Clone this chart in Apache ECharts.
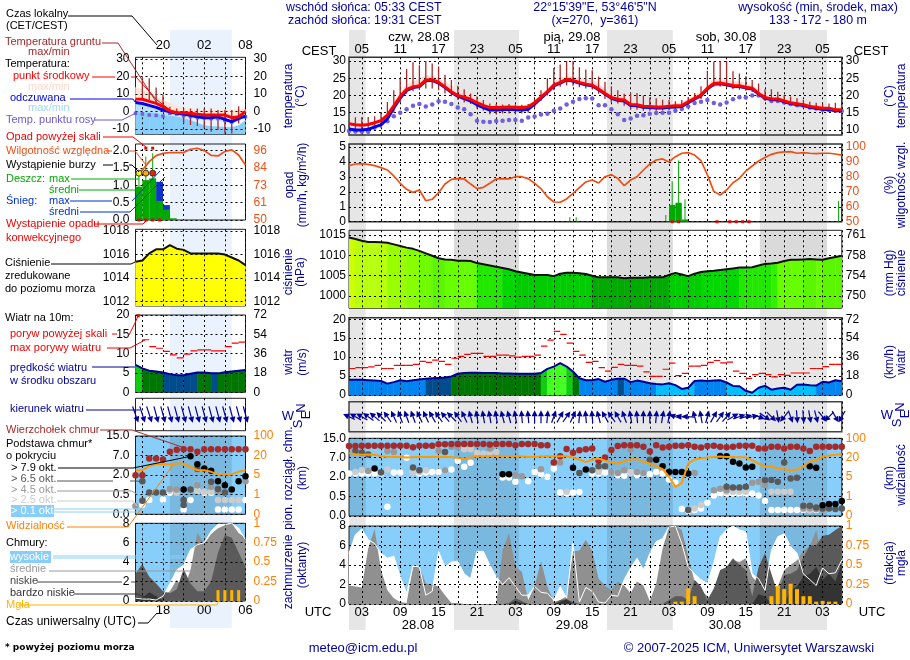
<!DOCTYPE html>
<html>
<head>
<meta charset="utf-8">
<title>meteogram</title>
<script src="https://cdn.jsdelivr.net/npm/echarts@6/dist/echarts.min.js"></script>
<style>
html, body { margin: 0; padding: 0; background: #fff; }
#chart { width: 910px; height: 660px; }
</style>
</head>
<body>
<div id="chart"></div>
<script>
// hours UTC counted from 28.08 00:00
var hoursMain = range(1, 78);
var hoursLeft = range(14, 30);
var nightMain = [[1, 3.6], [17.4, 27.55], [41.3, 51.6], [65.2, 75.7]];
var nightLeft = [[19, 28]];
var tickMain = [3, 6, 9, 12, 15, 18, 21, 24, 27, 30, 33, 36, 39, 42, 45, 48, 51, 54, 57, 60, 63, 66, 69, 72, 75, 78];
var labelMain = [3, 9, 15, 21, 27, 33, 39, 45, 51, 57, 63, 69, 75];
var tickLeft = [15, 18, 21, 24, 27, 30];
var labelLeft = [18, 24, 30];
var baseLabels = ['0.0', '0.5', '2.0', '7.0', '15.0'];
var visLabels = ['0', '1', '5', '20', '100'];

// temperatura, panel glowny
var tempMain = [11.8,11.5,11.4,11.6,12.1,12.7,14.3,17,19.7,21.8,
  22.5,22.8,24.5,24.6,23.8,22.5,21.1,20,19.5,18.9,
  17.9,17.1,16.5,16.5,16.6,16.7,16.6,16.5,16.7,17.9,
  19.5,21.1,23,23.8,24.7,24.4,23.8,23.3,23,21.9,
  20.6,19.4,18.9,18.7,17.4,17.3,16.9,16.8,16.7,16.7,
  16.9,17,17.1,18.2,19.2,20.1,22.1,23.5,23.6,23.3,
  22.9,22.8,22.4,22.1,20.6,19.4,19,19,18.4,17.9,
  17.6,17.3,16.8,16.6,16.3,16.3,15.9,15.9];
var feelsMain = [10.3,10,10,10.2,10.9,11.5,13.3,16.4,19.3,21.5,
  22.3,22.6,24.3,24.4,23.6,22.3,20.9,19.8,19.1,18.4,
  17.3,16.5,15.8,15.8,15.9,16,15.9,15.8,16,17.5,
  19.2,20.9,22.8,23.6,24.5,24.2,23.6,23.1,22.8,21.7,
  20.4,19.2,18.6,18.4,17.1,17,16.6,16.5,16.4,16.4,
  16.6,16.7,16.8,17.9,19,19.9,21.9,23.3,23.4,23.1,
  22.7,22.6,22.2,21.9,20.4,19.2,18.8,18.8,18.2,17.7,
  17.4,17.1,16.6,16.3,16,15.9,15.6,15.6];
var tempMaxMain = [12,11.7,11.6,11.9,12.5,13.2,15,18,21,23.2,
  24,25,25.9,25.7,25,24,22.8,21.5,21,20.2,
  19,18,17.1,17,17,17.2,17.1,17,17.4,18.8,
  20.4,22,24,25,25.6,25.4,25.2,24.8,24.6,23.4,
  22,20.6,20,19.6,18.2,18,17.5,17.4,17.3,17.3,
  17.5,17.6,18,19,20,21,23,24.6,24.8,24.4,
  24.2,24,23.5,23,21.6,20.2,19.8,19.6,19,18.4,
  18,17.7,17.1,16.9,16.6,16.5,16.2,16.1];
var feelsMinMain = [9.8,9.6,9.6,9.8,10.4,11,12.6,15.5,18.5,21,
  21.9,22.2,23.8,24,23.2,22,20.5,19.3,18.6,17.8,
  16.7,15.9,15.2,15.2,15.3,15.4,15.3,15.2,15.4,17,
  18.6,20.4,22.3,23.1,24,23.7,23.1,22.6,22.3,21.2,
  20,18.8,18.2,17.9,16.6,16.5,16.1,16,15.9,15.9,
  16.1,16.2,16.4,17.5,18.6,19.5,21.5,22.9,23,22.7,
  22.3,22.2,21.8,21.5,20,18.8,18.4,18.4,17.8,17.3,
  17,16.7,16.2,15.9,15.7,15.6,15.3,15.3];
var dewMain = [9.7,9.6,9.5,9.5,10.7,null,12.5,14,15,16,
  17,17.5,16.8,17.4,18.3,18.2,17.5,16.5,16,14.6,
  12.7,12.4,12.3,12.6,12.7,12.9,12.9,12.7,13.6,13.9,
  14.5,14.7,15.6,16.2,17.4,18.2,19,19.2,19.1,17.2,
  17.2,16,14.6,12.9,13.3,14.1,14.3,14.7,14.9,15,
  15,15.6,16.1,16.8,17.8,18.2,18.7,17.8,17.4,18,
  18.9,19.5,19.4,20,20,19.2,18.4,18.4,18,17.5,
  17.2,17.1,16.5,16.2,15.9,15.8,15.6,15.5];
var groundMinMain = [9.5,9.6,9.6,9.7,10,10.6,12.4,15,18,20.5,
  21.2,21.7,22,22,21.5,20.6,19.8,18.8,18,17.5,
  16.2,15.6,14.6,14.6,14.8,14.8,14.8,14.8,15,16.5,
  18.5,20,21.5,22.5,23,22.8,22.4,22,21.8,20.5,
  19,18,17.7,17,15.9,15.9,15.6,15.6,15.6,15.7,
  15.8,16,16.2,17.2,18,19,21,22.5,22.6,22.3,
  21.8,21.7,21.4,21,19.7,18.4,18.2,18,17.5,17,
  16.8,16.6,16.1,15.8,15.6,15.5,15.2,15.2];
var groundMaxMain = [12.5,13.7,13.7,13.8,14,15,18.1,21.5,25,27.7,
  29.6,28.8,30,29.3,28.4,26,24.5,22.8,21.8,20.6,
  19.7,18.7,17.7,17.5,17.4,17.5,17.4,17.3,17.5,19,
  21.5,25,28,29,30,30,28.2,27.5,27.3,25.5,
  24,22.7,21.5,20.5,20.7,20.7,20,19.4,19.2,18.8,
  18.7,18.3,18.7,19.5,20.7,22.7,27.2,29.8,30,30,
  27,26.4,25.6,24.5,23.5,21.8,21.8,21.1,20.1,19.7,
  19.2,18.7,18.2,17.9,17.7,17.7,17.9,17.2];

// opad i wilgotnosc
var humMain = [87.5,88.6,88.8,88.4,87.5,86.2,84.6,80.6,75.7,71.7,
  69.6,71.2,64,65,69.4,75.2,78.3,78.8,78.6,75.2,
  72.1,73,75.7,78.6,78.8,78.6,80.1,80.1,78.8,75.7,
  72.1,66.7,63.2,63,65.2,69,72.8,76.6,77.9,75.9,
  80.1,81.5,79,74.1,77.9,80.1,84.6,88.6,91.3,92,
  90,93.5,95.8,96.2,94.6,90.8,81.3,70.3,67.9,71.2,
  76.1,79,83.9,87.3,90.6,92.9,95.1,96.2,96.7,96.9,
  95.8,96.2,95.8,95.5,95.8,95.8,95.3,94.6];
var rainMeanHours = [51, 52, 53];
var rainMean = [1.12, 1.27, 0.15];
var rainMaxHours = [35, 36, 50, 51, 52, 53, 77];
var rainMax = [0.3, 0.3, 0.45, 2.7, 4.1, 1.5, 1.4];
var convHours = [51, 52, 58, 60, 61, 62, 63];

// cisnienie
var pressMain = [1014.4,1014,1013.6,1013.3,1013.3,1013.2,1013.1,1012.7,1012.3,1011.9,
  1011.6,1011.1,1010.5,1009.9,1009.3,1009,1008.9,1008.7,1008.7,1008.6,
  1008.1,1007.8,1007.5,1007.2,1006.9,1006.6,1006.1,1005.8,1005.5,1005.2,
  1005.2,1005.2,1004.9,1005.5,1005.7,1005.7,1005.6,1005.4,1005,1004.6,
  1004.6,1004.6,1004.6,1004.4,1004.5,1004.5,1004.5,1004.6,1004.6,1004.6,
  1005.2,1005.7,1005.3,1004.9,1005.5,1005.9,1006.1,1006.2,1006.4,1006.6,
  1006.8,1007,1007,1007.1,1007.5,1007.9,1008,1008.2,1008.6,1008.9,
  1008.9,1009,1009.1,1009,1008.9,1009.3,1009.6,1009.9];

// wiatr
var windMain = [4,4,4,3.9,3.8,3.7,3,3.4,3.9,3.6,
  3.9,4.1,4.3,4.4,4.5,4.6,4.9,5.6,5.8,5.9,
  5.9,5.8,5.8,5.8,5.7,5.7,5.6,5.6,5.6,5.6,
  5.8,6.9,7.5,8.4,7.5,6.2,4.4,3.9,3.9,4.2,
  3.5,4,4.3,4.3,3.4,3.8,3.5,3.1,2.9,2.8,
  3.1,2.6,1.6,1.9,3.7,3.8,3.7,3.8,3.9,3.3,
  2.4,2.3,1.1,0.6,1.9,2.4,1.4,1.7,1.9,1.4,
  2.7,2.8,2.6,2.5,3.5,3.3,3.9,3.6];
var gustMain = [7,7.2,7.2,7.4,7.8,7,7,7.8,7.8,7.8,
  8.1,8.9,8.6,9.2,8.9,8.1,9.7,10.2,10.7,11,
  11,10.2,10.2,10.5,10.5,10.3,10,10.2,10.2,10.5,
  12.9,14.5,16.8,16,13.7,11.5,10.5,8.6,8.9,7.2,
  6.3,7.3,8.1,7.8,7.8,7.6,6.1,4.9,4.9,6.8,
  8.4,5.1,5.7,7.6,7.6,7.8,8.6,9.1,8.5,8.7,
  6.3,5.7,4.4,5.4,5.7,5.4,4.8,5.4,5.2,5.8,
  5.8,5.8,7,7,7.5,8.1,8.1];
var windDirMain = [295,300,300,305,310,315,325,335,340,340,
  340,335,335,330,325,320,315,325,335,345,
  350,350,350,350,345,345,350,355,355,0,
  0,5,20,30,35,25,5,355,355,345,
  330,325,330,340,350,355,0,0,5,10,
  10,290,280,275,345,350,15,30,35,40,
  60,70,75,80,110,125,135,170,220,160,
  175,175,170,165,140,225,150,210];

// podstawa chmur, poziomy osi: 0 1 2 3 4 odpowiadaja baseLabels
var topMain = [3.61,3.61,3.62,3.62,3.62,3.62,3.62,3.62,3.62,3.62,
  3.54,3.62,3.62,3.62,3.69,3.69,3.71,3.71,3.71,3.71,
  3.71,3.71,3.68,3.71,3.71,3.71,3.64,3.71,3.71,3.71,
  3.64,3.64,2.75,3.08,3.45,3.26,3.38,3.44,3.47,2.84,
  3.01,3.40,3.61,3.64,3.64,3.64,3.56,3.32,3.64,3.52,
  3.56,3.62,3.62,3.64,3.56,3.52,3.61,3.62,3.56,3.54,
  3.56,3.62,3.62,3.62,3.47,3.47,3.56,3.56,3.47,3.56,
  3.56,3.47,3.35,3.56,3.56,3.56,3.56,3.56];
var visMain = [3.25,3.18,3.15,3.16,3.15,3.08,3.04,3.04,3.04,3.01,
  3.03,3.04,3.04,3.04,3.04,3.04,3.04,2.99,2.96,3.01,
  3.08,3.08,3.08,3.09,3.09,3.09,3.08,3.06,3.04,3.04,
  3.06,3.08,3.06,3.08,3.08,3.01,2.91,2.77,2.91,2.96,
  2.85,2.75,2.7,2.82,2.91,2.94,2.79,2.7,2.56,2.41,
  2.02,1.5,1.71,2.7,2.91,2.97,3.01,3.04,3.06,3.04,
  3.04,3.03,3.01,2.87,2.7,2.53,2.56,2.44,2.41,2.36,
  2.39,2.56,2.79,2.87,3.04,3.11,3.15,3.18];
var base79Main = [[5,2.44],[25,2.15],[26,2.15],[36,2.48],[38,2.39],[49,2.9],[50,2.56],[51,2.27],[52,2.27],[53,2.27],[54,2.19],[59,3.09],[60,3.08],[61,2.79],[62,2.7],[63,2.5],[64,2.53],[73,2.56],[74,2.48],[75,0.55],[76,0.62],[77,0.62],[78,0.77]];
var base65Main = [[2,3.35],[3,3.25],[4,3.16],[6,2.24],[11,2.5],[12,2.36],[16,3.3],[37,2.22],[39,2.36],[40,2.56],[41,2.56],[48,2.9],[54,0.31],[60,1.5],[61,1.47],[62,1.47],[63,1.5],[66,1.85],[67,1.85],[68,1.76],[69,2.75],[70,1.93],[71,1.97],[72,0.53],[73,0.53],[74,0.44],[75,0.39],[76,0.39],[77,0.36],[78,0.39]];
var base45Main = [[4,2.32],[7,3.35],[8,3.3],[15,3.36],[16,2.36],[17,3.56],[18,3.56],[23,3.47],[27,2.1],[28,2.05],[31,2.41],[34,2.75],[42,2.27],[43,2.22],[44,2.36],[45,3.42],[46,2.27],[47,2.22],[55,2.22],[58,1.33],[59,1.4],[60,1.33],[64,1.71],[65,1.76],[66,1.6],[72,0.4],[73,0.4],[74,0.35],[75,0.34]];
var base25Main = [[2,2.27],[3,2.36],[7,2.39],[11,2.27],[12,2.27],[13,2.36],[19,3.44],[20,3.44],[21,3.25],[22,3.22],[23,3.25],[24,3.3],[34,2.75],[35,1.25],[39,2.36],[40,2.27],[45,2.27],[46,2.27],[47,2.22],[55,0.39],[56,0.56],[60,1.25],[61,1.25],[62,1.25],[63,1.25],[67,1.25],[68,1.25],[69,1.25],[70,1.25],[72,0.35],[73,0.3]];
var base01Main = [[1,2.19],[2,2.19],[3,2.19],[4,2.19],[5,2.19],[6,2.19],[7,0.48],[8,2.24],[9,2.24],[10,3],[11,2.27],[12,2.19],[13,2.24],[14,2.27],[15,2.27],[16,2.36],[17,2.39],[18,2.84],[19,2.53],[20,2.74],[25,1.98],[26,1.98],[27,1.76],[29,1.79],[30,2.27],[31,2.15],[32,2.02],[33,2.44],[34,1.21],[35,1.16],[36,1.21],[37,1.23],[39,2.19],[40,2.19],[41,2.24],[42,2.27],[43,2.1],[44,2.07],[45,2.24],[46,2.1],[47,2.19],[48,2.15],[49,2.27],[50,2.19],[51,1.88],[52,1.71],[53,0.36],[54,0.27],[55,0.31],[56,0.39],[57,0.68],[58,1.06],[59,1.16],[60,1.16],[61,1.16],[62,1.16],[63,1.16],[64,1.16],[65,1.06],[66,0.77],[67,0.31],[68,0.31],[69,0.31],[70,0.31],[71,0.31],[72,0.31],[73,0.31],[74,0.31]];

// zachmurzenie w oktantach
var cloudHighMain = [5.2,7.1,7.7,6.6,6.2,5.2,4.7,4.9,2.8,1.1,
  3.9,3.8,0.9,1.3,5.4,3.8,4.3,4.4,3.1,2.6,
  5.4,5.4,4,2.8,2,2.7,1.8,0.9,0.9,1.8,
  1.2,1.1,0.4,1.8,0.6,6.2,0.2,1.7,1.3,0.2,
  0.1,0.9,0.8,2.5,3.7,4.7,3.5,5.2,6.4,6.7,
  7.9,8,6.2,3.8,3.1,2.5,2.1,4.2,6.9,7.6,
  8,7.6,7.4,3.1,2.6,1.4,5.5,6.9,7.2,5.9,
  5.2,3.1,2.5,1.9,3.7,3.1,3.2,4.5];
var cloudMidMain = [1.9,1.8,1.7,5.7,7.7,3.5,1.4,0.6,0.2,0.1,
  3.8,3.8,2.1,2,1.8,0.9,0.1,0.1,0,0,
  0,0,0,0,5.5,7.3,3.8,3.3,0.4,1.8,
  4.4,1.8,0.2,0.4,0.8,5.4,5.5,6.6,5.4,2.6,
  1.9,1.4,2.3,1.9,1.1,2.3,1.9,0.3,2.1,5.7,
  7.9,8,7.6,4.9,2.3,1.4,0.8,0.4,0.8,2.8,
  4.5,4.3,4.7,2.8,2.1,0.9,1.6,1.8,3.5,4,
  4.5,5.5,5.9,7.6,4.7,4.9,5.5,7.6];
var cloudLowMain = [0,0,0,0,0,0,0,0,0,0,
  0,0,0,0,0,0,0,0,0,0,
  0,0,0,0,0,0.1,0.6,0.3,0,0,
  0,0,0,0.4,0.5,0.2,0,0,0,0,
  0,0,0,0,0,0,0,0,0,0,
  0.4,0.8,0.8,0.4,2.5,1.8,0.4,1.6,3.5,3.8,
  4.7,4,3.5,0.8,3.8,5.2,3.1,1.1,3,3.1,
  3.5,4.8,6,6,7,7.1,7.6,8];
var cloudVeryLowMain = [0,0,0,0,0,0,0,0,0,0,
  0,0,0,0,0,0,0,0,0,0,
  0,0,0,0,0,0,0.3,0.1,0,0,
  0,0,0,0.2,0.5,0,0,0,0,0,
  0,0,0,0,0,0,0,0,0,0,
  0,0,0,0,0,0,0,0,0,0,
  0,0,0,0,1,0.8,0,0,0,1.4,
  1.8,2.8,3.1,3.8,2.5,3.1,2.3,4.2];
var fogHours = [52, 53, 54, 55, 67, 68, 69, 70, 71, 72, 73, 74, 75, 76, 77];
var fogMain = [0.03, 0.03, 0.2, 0.1, 0.1, 0.23, 0.19, 0.26, 0.19, 0.1, 0.1, 0.03, 0.04, 0.03, 0.03];

// panel lewy (legenda)
var tempLeft = [7.1,7,5.8,4.7,2.8,0.3,-0.7,-0.7,-1,-1.6,-2,-2,-2,-2,-3.5,-3,0];
var feelsLeft = [5.2,4.6,3.5,2.4,0.9,-0.1,-1,-1.4,-2.2,-3,-3.5,-3.5,-3,-4.5,-5.8,-3.9,-2.6];
var tempMaxLeft = [13.8,12.5,10.6,8.6,6.6,4.8,3.1,2.4,1.8,1.3,0.9,0.9,0.9,0.9,0.9,1.3,1.8];
var feelsMinLeft = [0,-0.5,-0.5,-1,-1.5,-2,-2.4,-3,-3.4,-4,-4.6,-4.6,-4.5,-5.5,-6.8,-5,-3.6];
var coldTopLeft = [0,-0.5,-0.5,-1,-2,-2.5,-3,-4,-5,-6.5,-8,-8.5,-8.7,-9,-9,-8,-5];
var dewLeft = [-1,-1.4,-2,-2.2,-2.6,-1,-1.4,-2.5,-3,-3.5,-3.5,-4,-4,-5,-6,-4,-3];
var groundHoursLeft = [15,16,17,18,19,20,21,22,23,24,25,26,27,28,29];
var groundMaxLeft = [19.9,19,13.8,9.4,2.8,1.8,1.8,1.8,1.8,1.8,1.8,0.9,0.9,0.9,3.1];
var groundMinLeft = [6.6,6.6,4.7,0.9,-2,-2,-6.8,-7.7,-8.3,-9.6,-11.5,-10.6,-12.5,-12.5,-6.8];

var humLeft = [79.9,83.2,88.7,92.7,94.2,94.7,94.7,94.7,96.9,97.6,96,92.9,92.5,95.4,96.5,93.1,86.5];
var rainLeftHours = [14, 15, 16, 17, 18, 19];
var rainLeft = [0.96, 1.15, 1.2, 0.55, 0.3, 0.05];
var snowLeft = [0, 0, 0, 1.1, 0.43, 0];
var rainMaxLeftHours = [14.5, 15.5, 16.5];
var rainMaxLeft = [1.3, 1.83, 1.92];
var stormLeft = [[14.5, 1.35, '#ffee00'], [15.5, 1.35, '#ffaa00'], [16.5, 1.35, '#ee2200']];
var overScaleLeft = [15.5, 16.5];
var convLeft = [14.5, 15.5, 16.5, 17.5];

var pressLeft = [1015.4,1015.5,1016.1,1016.45,1016.45,1016.8,1016.5,1016.4,1016.1,1016.1,1016.1,1016.1,1016.1,1016,1015.75,1015.5,1015.1];
var windLeft = [7.1,6.2,5.6,5.4,5.1,4.7,4.4,4.4,4.8,5.1,5.1,4.9,4.9,5.2,5.4,5.6,5.8];
var gustHoursLeft = [15,16,17,18,19,20,21,22,23,24,25,26,27,28,29];
var gustLeft = [13.6,11.8,11.4,10.6,9.7,8.9,9.9,10.7,11,11,10.7,10.7,11.8,12.7,13];
var windDirLeft = [160,162,162,165,165,165,165,165,165,165,165,165,165,165,165,165,165];

var topLeft = [2,2,2.85,2.85,2.8,3.19,3.3,3.32,3.32,3.19,3.32,3.32,3.32,3.32,3.32,3.32,3.32];
var visLeft = [2.25,2.25,2.47,2.56,2.56,2.56,2.59,2.59,2.42,2.25,2.25,2.17,2.05,2.05,2.05,2.17,2.25];
var base79Left = [[21,1.27],[22,2.97],[23,2.56],[24,2.34],[25,2.22],[26,1.69],[27,1.49],[28,1.27],[29,1.69],[30,1.95]];
var base65Left = [[15,1.69],[15,0.69],[16,1.12],[17,1.12],[18,1.12],[21,0.73],[21,0.47],[22,1.27],[23,2.31],[25,1.66],[26,1.29],[27,1.12]];
var base45Left = [[14,0.42],[19,1.29],[20,1.27],[23,1.49],[25,1.41],[26,1.19],[30,1.69]];
var base25Left = [[14,0.42],[19,1.2],[20,1.1],[23,1.2],[24,1.15],[25,1.15],[26,0.73],[27,0.73],[28,0.73],[29,0.73]];
var base01Left = [[15,0.47],[16,0.73],[18,0.76],[19,1.1],[21,0.25],[22,0.73],[23,1.2],[24,1.1],[25,1.1],[26,0.25],[27,0.25],[28,0.25],[29,0.25],[30,0.73]];

var cloudHighLeft = [0.3,0.2,0.2,0.1,0.5,1.8,3.2,3.7,5.3,5.8,6,7.2,7.9,7.9,8,7.5,6.3];
var cloudMidLeft = [0,0,0,0,0.6,1,2.2,1.2,3.2,7,5.9,6.9,7.5,7.8,8,7,6.5];
var cloudLowLeft = [2.8,3.8,2.5,1.8,1,0.8,1.2,3.3,1.8,1,1,2,5,6.8,6.5,5,3.5];
var cloudVeryLowLeft = [0.4,0.3,0.9,0.5,0,0,0,0,0,0,0,0,0,0,0,0,0];
var fogLeftHours = [26, 27, 28, 29];
var fogLeft = [0.14, 0.14, 0.14, 0.14];

function range(a, b) {
  var r = [];
  for (var i = a; i <= b; i++) r.push(i);
  return r;
}
function zip(xs, ys) {
  return ys.map(function (v, i) { return [xs[i], v]; });
}
function shift(xs, d) {
  return xs.map(function (v) { return v + d; });
}
function pad2(v) {
  return (v < 10 ? '0' : '') + v;
}

var FONT = '"Liberation Sans", Arial, sans-serif';
var NAVY = '#000099';
var ORANGE = '#ff8000';
var HUMID = '#ee4f14';
var SKY = '#87cefa';

var grids = [], xAxes = [], yAxes = [], series = [];

// one panel = a grid, its x axis and a y axis on each side
function addPanel(o) {
  var g = grids.length;
  var dash = { color: '#000', width: 1, type: [2, 3] };
  grids.push({
    left: o.box[0], top: o.box[1], width: o.box[2], height: o.box[3],
    show: o.frame !== false, borderColor: o.border || '#222', borderWidth: o.borderWidth || 1,
    backgroundColor: o.bg || 'transparent', outerBoundsMode: 'none', z: 1
  });
  xAxes.push({
    type: 'value', gridIndex: g, min: o.xr[0], max: o.xr[1], position: o.xPos || 'bottom', z: 3,
    axisLine: { show: false },
    axisTick: { show: false, customValues: o.xt || [] },
    axisLabel: {
      show: !!o.xl, customValues: o.xl, margin: o.xMargin || 2, formatter: o.xf,
      color: '#000', fontFamily: FONT, fontSize: 13
    },
    splitLine: { show: !!o.xt, lineStyle: dash }
  });
  function yAxis(pos, labels, fmt, color, margin) {
    return {
      type: 'value', gridIndex: g, min: pos === 'left' ? o.yr[0] : (o.yr2 || o.yr)[0], max: pos === 'left' ? o.yr[1] : (o.yr2 || o.yr)[1],
      position: pos, z: 3,
      axisLine: { show: false },
      axisTick: { show: false, customValues: labels || [] },
      axisLabel: {
        show: !!labels, customValues: labels, formatter: fmt, color: color, margin: margin,
        fontFamily: FONT, fontSize: 12
      },
      splitLine: { show: pos === 'left' && !!labels, lineStyle: dash }
    };
  }
  yAxes.push(yAxis('left', o.yt, o.yf, '#000', o.lm || 3));
  yAxes.push(yAxis('right', o.yt2 || o.yt, o.yf2 || o.yf, o.color2 || '#000', o.rm || 3));
  return { g: g, l: yAxes.length - 2, r: yAxes.length - 1, floor: o.yr[0] };
}

function on(p, side, s) {
  s.xAxisIndex = p.g;
  s.yAxisIndex = side === 'r' ? p.r : p.l;
  s.silent = true;
  series.push(s);
}
function addLine(p, side, data, color, width, z) {
  on(p, side, { type: 'line', data: data, showSymbol: false, connectNulls: false, z: z || 5,
    lineStyle: { color: color, width: width }, itemStyle: { color: color } });
}
function addArea(p, data, color, z) {
  on(p, 'l', { type: 'line', data: data, showSymbol: false, z: z || 2,
    lineStyle: { width: 0 }, itemStyle: { color: color }, areaStyle: { color: color, opacity: 1 } });
}
function addDots(p, side, data, color, size, z, symbol) {
  on(p, side, { type: 'scatter', data: data, symbol: symbol || 'circle', symbolSize: size, z: z || 6, itemStyle: { color: color, opacity: 1 } });
}
function addBars(p, data, color, width, z) {
  on(p, 'l', { type: 'bar', data: data, barWidth: width, barGap: '-100%', z: z || 2, itemStyle: { color: color } });
}
// polygons between two curves, hour by hour, fill picked from the value
function addSegments(p, hours, lows, highs, colorOf, z) {
  var data = [];
  for (var i = 0; i < hours.length - 1; i++) {
    data.push([hours[i], lows[i], highs[i], hours[i + 1], lows[i + 1], highs[i + 1]]);
  }
  on(p, 'l', {
    type: 'custom', data: data, z: z || 2, clip: true, encode: { x: [0, 3], y: [1, 2, 4, 5] },
    renderItem: function (params, api) {
      var c = typeof colorOf === 'function' ? colorOf((api.value(2) + api.value(5)) / 2) : colorOf;
      return { type: 'polygon', shape: { points: [
        api.coord([api.value(0), api.value(2)]), api.coord([api.value(3), api.value(5)]),
        api.coord([api.value(3), api.value(4)]), api.coord([api.value(0), api.value(1)])
      ] }, style: { fill: c, stroke: c, lineWidth: 0.5 } };
    }
  });
}
function addSticks(p, hours, lows, highs, color, width, z) {
  var data = hours.map(function (h, i) { return [h, lows[i], highs[i]]; });
  on(p, 'l', {
    type: 'custom', data: data, z: z || 4, clip: true, encode: { x: 0, y: [1, 2] },
    renderItem: function (params, api) {
      var a = api.coord([api.value(0), api.value(1)]), b = api.coord([api.value(0), api.value(2)]);
      return { type: 'line', shape: { x1: a[0], y1: a[1], x2: b[0], y2: b[1] }, style: { stroke: color, lineWidth: width } };
    }
  });
}
// one hour long dash for each max gust
function addGusts(p, hours, values) {
  on(p, 'l', {
    type: 'custom', data: zip(hours, values), z: 5, clip: true, encode: { x: 0, y: 1 },
    renderItem: function (params, api) {
      var a = api.coord([api.value(0), api.value(1)]), b = api.coord([api.value(0) + 1, api.value(1)]);
      return { type: 'line', shape: { x1: a[0], y1: a[1], x2: b[0], y2: b[1] }, style: { stroke: '#ff0000', lineWidth: 1.2 } };
    }
  });
}
function addArrows(p, hours, dirs, len) {
  on(p, 'l', {
    type: 'custom', data: zip(hours, dirs), z: 5, clip: false, encode: { x: 0 },
    renderItem: function (params, api) {
      var c = api.coord([api.value(0), 0.5]);
      var a = api.value(1) * Math.PI / 180, dx = Math.sin(a), dy = -Math.cos(a);
      var tip = [c[0] + dx * len / 2, c[1] + dy * len / 2];
      var base = [tip[0] - dx * 6, tip[1] - dy * 6];
      return { type: 'group', children: [
        { type: 'line', shape: { x1: c[0] - dx * len / 2, y1: c[1] - dy * len / 2, x2: base[0], y2: base[1] }, style: { stroke: NAVY, lineWidth: 1.2 } },
        { type: 'polygon', shape: { points: [tip, [base[0] - dy * 3, base[1] + dx * 3], [base[0] + dy * 3, base[1] - dx * 3]] }, style: { fill: NAVY } }
      ] };
    }
  });
}
function addNight(p, bands, color, z) {
  on(p, 'l', {
    type: 'line', data: [], z: z, markArea: {
      silent: true, z: z, itemStyle: { color: color },
      data: bands.map(function (b) { return [{ xAxis: b[0] }, { xAxis: b[1] }]; })
    }
  });
}

function pressColor(v) {
  var stops = [[1015, '#ffff00'], [1014, '#ccff00'], [1013, '#b8ff10'], [1012, '#99ff00'], [1011, '#88ff00'], [1010, '#70fa00'],
    [1009, '#5cf500'], [1008.2, '#66ff00'], [1008, '#33f000'], [1007, '#22e800'], [1006, '#00d800'], [1005, '#00cc00']];
  for (var i = 0; i < stops.length; i++) if (v >= stops[i][0]) return stops[i][1];
  return '#00aa00';
}
function windColor(v) {
  var stops = [[7, '#44ff22'], [6, '#11cc11'], [5, '#007700'], [4.2, '#004c8c'], [3, '#0084f0'], [1.5, '#00bfff']];
  for (var i = 0; i < stops.length; i++) if (v >= stops[i][0]) return stops[i][1];
  return '#00e8ff';
}

var X1 = 349, W1 = 492.8, X0 = 135.5, W0 = 110;
var mainX = [1, 78], leftX = [14, 30];
var m = { xr: mainX, xt: tickMain };
var l = { xr: leftX, xt: tickLeft };
function panel(base, extra) {
  var o = {}, k;
  for (k in base) o[k] = base[k];
  for (k in extra) o[k] = extra[k];
  return addPanel(o);
}
function fixed1(v) { return v.toFixed(1); }
function intFloor(v) { return String(Math.floor(v)); }
function baseFmt(v) { return baseLabels[v]; }
function visFmt(v) { return visLabels[v]; }
function toMmHg(v) { return String(Math.round(v * 0.75006)); }
function toKmh(v) { return String(Math.round(v * 3.6)); }

// tlo: pasy nocy przez cala wysokosc
var bgMain = addPanel({ box: [X1, 30, W1, 600], xr: mainX, yr: [0, 1], frame: false });
addNight(bgMain, nightMain, '#e6e6e6', 0);
var bgLeft = addPanel({ box: [X0, 30, W0, 598], xr: leftX, yr: [0, 1], frame: false });
addNight(bgLeft, nightLeft, '#eaf2fe', 0);

/* ---------- panel glowny ---------- */
var p;
p = panel(m, { box: [X1, 57.3, W1, 77.7], yr: [8.55, 31.07], yt: [10, 15, 20, 25, 30], xPos: 'top', xl: labelMain,
  xf: function (v) { return pad2((v + 2) % 24); }, xMargin: 1, rm: 4, borderWidth: 1.5, border: '#333' });
addSegments(p, hoursMain, tempMain, tempMaxMain, '#ffdcdc', 2);
addSegments(p, hoursMain, feelsMinMain, feelsMain, '#cdeaff', 2);
addSticks(p, hoursMain, groundMinMain, groundMaxMain, '#a52a2a', 1.3, 4);
addDots(p, 'l', zip(hoursMain, dewMain), '#7060dd', 4.5, 4);
addLine(p, 'l', zip(hoursMain, feelsMain), '#0000ee', 3, 5);
addLine(p, 'l', zip(hoursMain, tempMain), '#ff0000', 3, 6);

p = panel(m, { box: [X1, 144, W1, 77.7], yr: [0, 5.2], yr2: [50, 102], yt: [0, 1, 2, 3, 4, 5], yt2: [50, 60, 70, 80, 90, 100], color2: HUMID, rm: 4, borderWidth: 1.5, border: '#333' });
addBars(p, zip(shift(rainMeanHours, 0.5), rainMean), '#00aa00', 6.4, 4);
addSticks(p, shift(rainMaxHours, 0.5), rainMax.map(function () { return 0; }), rainMax, '#00aa00', 1, 4);
addLine(p, 'r', zip(hoursMain, humMain), HUMID, 1.7, 5);
addDots(p, 'l', convHours.map(function (h) { return [h + 0.5, 0]; }), '#ee0000', 3, 6, 'rect');

p = panel(m, { box: [X1, 230.3, W1, 78], yr: [997, 1016.15], yt: [1000, 1005, 1010, 1015], yf: intFloor, yf2: toMmHg, rm: 4 });
addSegments(p, hoursMain, hoursMain.map(function () { return 997; }), pressMain, pressColor, 2);
addNight(p, nightMain, 'rgba(0,0,0,0.05)', 2);
addLine(p, 'l', zip(hoursMain, pressMain), '#111', 2, 5);

p = panel(m, { box: [X1, 317.7, W1, 77.3], yr: [0, 20.4], yt: [0, 5, 10, 15, 20], yf2: toKmh, rm: 4, borderWidth: 1.5, border: '#333' });
addSegments(p, hoursMain, hoursMain.map(function () { return 0; }), windMain, windColor, 2);
addGusts(p, hoursMain.slice(0, 77), gustMain);
addLine(p, 'l', zip(hoursMain, windMain), NAVY, 2, 5);

p = panel(m, { box: [X1, 401.7, W1, 30], yr: [0, 1], borderWidth: 1.5, border: '#444' });
addArrows(p, hoursMain, windDirMain, 13);

p = panel(m, { box: [X1, 438.3, W1, 77.7], yr: [0, 4], yt: [0, 1, 2, 3, 4], yf: baseFmt, yf2: visFmt, color2: ORANGE, rm: 4, bg: SKY });
addNight(p, nightMain, 'rgba(0,0,0,0.1)', 1);
addDots(p, 'l', base01Main, '#ffffff', 6.5, 5);
addDots(p, 'l', base25Main, '#cccccc', 6.5, 6);
addDots(p, 'l', base45Main, '#999999', 6.5, 7);
addDots(p, 'l', base65Main, '#595959', 6.5, 8);
addDots(p, 'l', base79Main, '#000000', 6.5, 9);
addDots(p, 'l', zip(hoursMain, topMain), '#a52a2a', 6.5, 10);
addLine(p, 'l', zip(hoursMain, visMain), '#ff9900', 2, 11);

p = panel(m, { box: [X1, 526, W1, 78], yr: [0, 8], yr2: [0, 1], yt: [0, 2, 4, 6, 8], yt2: [0, 0.25, 0.5, 0.75, 1], color2: ORANGE, rm: 4, bg: SKY, xl: labelMain,
  xf: function (v) { return pad2(v % 24); }, xMargin: 2 });
addNight(p, nightMain, 'rgba(0,0,0,0.1)', 1);
addArea(p, zip(hoursMain, cloudHighMain), '#ffffff', 2);
addArea(p, zip(hoursMain, cloudMidMain), '#909090', 2);
addArea(p, zip(hoursMain, cloudLowMain), '#5a5a5a', 2);
addArea(p, zip(hoursMain, cloudVeryLowMain), '#333333', 2);
addLine(p, 'l', zip(hoursMain, cloudHighMain), '#ffffff', 1, 4);
on(p, 'r', { type: 'bar', data: zip(fogHours, fogMain), barWidth: 4, z: 5, itemStyle: { color: '#ffb400' } });

/* ---------- panel lewy ---------- */
p = panel(l, { box: [X0, 57.3, W0, 77], yr: [-13, 31], yt: [-10, 0, 10, 20, 30], xPos: 'top', xl: labelLeft,
  xf: function (v) { return pad2((v + 2) % 24); }, xMargin: 5, lm: 6, rm: 8 });
addSegments(p, hoursLeft, tempLeft, tempMaxLeft, '#ffe4d8', 2);
addSegments(p, hoursLeft, feelsMinLeft, feelsLeft, '#b8e2fb', 2);
addSegments(p, hoursLeft, hoursLeft.map(function () { return -13; }), coldTopLeft, SKY, 2);
addSticks(p, groundHoursLeft, groundMinLeft, groundMaxLeft, '#a52a2a', 1.3, 4);
addDots(p, 'l', zip(hoursLeft, dewLeft), '#7060dd', 3.5, 4, 'rect');
addLine(p, 'l', zip(hoursLeft, feelsLeft), '#0000ee', 3, 5);
addLine(p, 'l', zip(hoursLeft, tempLeft), '#ff0000', 3, 6);

p = panel(l, { box: [X0, 144, W0, 76], yr: [0, 2.19], yr2: [50, 100.4], yt: [0, 0.5, 1, 1.5, 2], yf: fixed1, yt2: [50, 61.5, 73, 84.5, 96], yf2: intFloor, color2: HUMID, lm: 6, rm: 8 });
addBars(p, zip(shift(rainLeftHours, 0.5), snowLeft), '#1133cc', 6.9, 2);
addBars(p, zip(shift(rainLeftHours, 0.5), rainLeft), '#00aa00', 6.9, 3);
addSticks(p, rainMaxLeftHours, rainMaxLeft.map(function () { return 0; }), rainMaxLeft, '#00aa00', 1, 4);
addLine(p, 'r', zip(hoursLeft, humLeft), HUMID, 1.7, 5);
stormLeft.forEach(function (d) {
  on(p, 'l', { type: 'scatter', data: [[d[0], d[1]]], symbolSize: 6, z: 7, itemStyle: { color: d[2], borderColor: '#333', borderWidth: 1, opacity: 1 } });
});
addDots(p, 'l', overScaleLeft.map(function (h) { return [h, 2.07]; }), '#ee0000', 3, 7, 'rect');
addDots(p, 'l', convLeft.map(function (h) { return [h, 0]; }), '#ee0000', 3, 7, 'rect');

p = panel(l, { box: [X0, 229.3, W0, 76.7], yr: [1011.63, 1018.15], yt: [1012, 1014, 1016, 1018], yf: intFloor, lm: 6, rm: 8 });
addSegments(p, hoursLeft, hoursLeft.map(function () { return 1011.63; }), pressLeft, '#ffff00', 2);
addLine(p, 'l', zip(hoursLeft, pressLeft), '#111', 2, 5);

p = panel(l, { box: [X0, 315, W0, 77.3], yr: [0, 20], yt: [0, 5, 10, 15, 20], yf2: toKmh, lm: 6, rm: 8 });
addSegments(p, hoursLeft, hoursLeft.map(function () { return 0; }), windLeft, windColor, 2);
addGusts(p, gustHoursLeft, gustLeft);
addLine(p, 'l', zip(hoursLeft, windLeft), NAVY, 2, 5);
addDots(p, 'l', [[14.4, 19.8]], '#ee0000', 3, 7, 'rect');

p = panel(l, { box: [X0, 398.3, W0, 32.4], yr: [0, 1] });
addArrows(p, hoursLeft, windDirLeft, 17);

p = panel(l, { box: [X0, 436, W0, 78.3], yr: [0, 4], yt: [0, 1, 2, 3, 4], yf: baseFmt, yf2: visFmt, color2: ORANGE, lm: 6, rm: 8, bg: SKY });
addNight(p, nightLeft, 'rgba(0,0,0,0.1)', 1);
addDots(p, 'l', base01Left, '#ffffff', 6.5, 5);
addDots(p, 'l', base25Left, '#cccccc', 6.5, 6);
addDots(p, 'l', base45Left, '#999999', 6.5, 7);
addDots(p, 'l', base65Left, '#595959', 6.5, 8);
addDots(p, 'l', base79Left, '#000000', 6.5, 9);
addDots(p, 'l', zip(hoursLeft, topLeft), '#a52a2a', 6.5, 10);
addLine(p, 'l', zip(hoursLeft, visLeft), '#ff9900', 2, 11);

p = panel(l, { box: [X0, 523.3, W0, 77.7], yr: [0, 8], yr2: [0, 1], yt: [0, 2, 4, 6, 8], yt2: [0, 0.25, 0.5, 0.75, 1], color2: ORANGE, lm: 6, rm: 8, bg: SKY, xl: labelLeft,
  xf: function (v) { return pad2(v % 24); }, xMargin: 3 });
addNight(p, nightLeft, 'rgba(0,0,0,0.1)', 1);
addArea(p, zip(hoursLeft, cloudHighLeft), '#ffffff', 2);
addArea(p, zip(hoursLeft, cloudMidLeft), '#909090', 2);
addArea(p, zip(hoursLeft, cloudLowLeft), '#5a5a5a', 2);
addArea(p, zip(hoursLeft, cloudVeryLowLeft), '#333333', 2);
addLine(p, 'l', zip(hoursLeft, cloudHighLeft), '#ffffff', 1, 4);
on(p, 'r', { type: 'bar', data: zip(fogLeftHours, fogLeft), barWidth: 3, z: 5, itemStyle: { color: '#ffb400' } });

/* ---------- teksty i linie opisow ---------- */
var gfx = [];
function txt(s, x, y, color, align, rot, font) {
  gfx.push({ type: 'text', x: x, y: y, rotation: rot ? Math.PI / 2 : 0, silent: true, z: 100,
    style: { text: s, fill: color || '#000', font: font || ('13px ' + FONT), textAlign: align || 'left', textVerticalAlign: 'middle', align: align || 'left', verticalAlign: 'middle' } });
}
// opisy legendy po lewej sa mniejsze
function leg(s, x, y, color) {
  txt(s, x, y, color, 'left', false, '11px ' + FONT);
}
function lead(pts, color, w) {
  gfx.push({ type: 'polyline', silent: true, z: 99, shape: { points: pts }, style: { stroke: color, fill: null, lineWidth: w || 1 } });
}
function box(x, y, w, h, color) {
  gfx.push({ type: 'rect', silent: true, z: 98, shape: { x: x, y: y, width: w, height: h }, style: { fill: color } });
}

var HEAD = '12.4px ' + FONT;
txt('wschód słońca: 05:33 CEST', 286, 8, NAVY, 'left', false, HEAD);
txt('zachód słońca: 19:31 CEST', 288, 21, NAVY, 'left', false, HEAD);
txt('22°15\'39"E, 53°46\'5"N', 595, 8, NAVY, 'center', false, HEAD);
txt('(x=270,  y=361)', 595, 21, NAVY, 'center', false, HEAD);
txt('wysokość (min, środek, max)', 818, 8, NAVY, 'center', false, HEAD);
txt('133 - 172 - 180 m', 818, 21, NAVY, 'center', false, HEAD);
txt('czw, 28.08', 419, 37, '#000', 'center');
txt('pią, 29.08', 572, 37, '#000', 'center');
txt('sob, 30.08', 726, 37, '#000', 'center');
txt('CEST', 319, 51, '#000', 'center');
txt('CEST', 871, 51, '#000', 'center');
txt('UTC', 318, 612, '#000', 'center');
txt('UTC', 872, 612, '#000', 'center');
txt('28.08', 418, 625, '#000', 'center');
txt('29.08', 572, 625, '#000', 'center');
txt('30.08', 725, 625, '#000', 'center');
txt('meteo@icm.edu.pl', 363, 648, NAVY, 'center');
txt('© 2007-2025 ICM, Uniwersytet Warszawski', 749, 648, NAVY, 'center');

// opisy osi (obrocone)
[['temperatura', 289, 96], ['(°C)', 301, 96], ['opad', 290, 185], ['(mm/h, kg/m²/h)', 303, 185],
 ['ciśnienie', 289, 272], ['(hPa)', 301, 272], ['wiatr', 289, 362], ['(m/s)', 303, 362],
 ['pion. rozciągł. chm.', 289, 478], ['(km)', 303, 478], ['zachmurzenie', 289, 572], ['(oktanty)', 303, 565],
 ['temperatura', 902, 96], ['(°C)', 890, 96], ['wilgotność wzgl.', 902, 185], ['(%)', 890, 185],
 ['ciśnienie', 902, 273], ['(mm Hg)', 890, 273], ['wiatr', 902, 362], ['(km/h)', 890, 362],
 ['widzialność', 902, 475], ['(km)', 890, 478], ['mgła', 902, 563], ['(frakcja)', 890, 563]
].forEach(function (a) { txt(a[0], a[1], a[2], NAVY, 'center', true, '12px ' + FONT); });

// roza wiatrow
[[288, 416], [887, 415]].forEach(function (c) {
  txt('W', c[0], c[1], NAVY, 'center');
  txt('S', c[0] + 10, c[1] + 8, NAVY, 'center', true);
  txt('N', c[0] + 13, c[1] - 8, NAVY, 'center', true);
  txt('E', c[0] + 18, c[1] - 1, NAVY, 'center', true);
});

var BRICK = '#a52a2a', RED = '#ee0000', GREEN = '#00aa00', BLUE = '#0033cc', PURPLE = '#6a5acd';
leg('Czas lokalny', 6, 14);
leg('(CET/CEST)', 6, 26);
leg('Temperatura gruntu', 5, 42, BRICK);
leg('max/min', 28, 52, BRICK);
leg('Temperatura:', 5, 64);
leg('punkt środkowy', 13, 76, '#ff0000');
leg('max/min', 28, 87, '#ffd8c8');
leg('odczuwana', 10, 98, '#0000dd');
leg('max/min', 28, 108, '#a0d8f0');
leg('Temp. punktu rosy', 6, 120, PURPLE);
leg('Opad powyżej skali', 6, 137, RED);
leg('Wilgotność względna', 6, 151, HUMID);
leg('Wystąpienie burzy', 6, 165);
leg('Deszcz:', 6, 179, GREEN);
leg('max', 49, 179, GREEN);
leg('średni', 49, 190, GREEN);
leg('Śnieg:', 6, 201, BLUE);
leg('max', 49, 201, BLUE);
leg('średni', 49, 212, BLUE);
leg('Wystąpienie opadu', 6, 224, RED);
leg('konwekcyjnego', 6, 238, RED);
leg('Ciśnienie', 5, 263);
leg('zredukowane', 5, 276);
leg('do poziomu morza', 5, 289);
leg('Wiatr na 10m:', 5, 318);
leg('poryw powyżej skali', 10, 334, RED);
leg('max porywy wiatru', 10, 348, RED);
leg('prędkość wiatru', 10, 368, NAVY);
leg('w środku obszaru', 10, 381, NAVY);
leg('kierunek wiatru', 10, 409, NAVY);
leg('Wierzchołek chmur', 6, 430, BRICK);
leg('Podstawa chmur*', 6, 444);
leg('o pokryciu', 6, 456);
leg('> 7.9 okt.', 11, 468);
leg('> 6.5 okt.', 11, 479, '#555');
leg('> 4.5 okt.', 11, 490, '#999');
leg('> 2.5 okt.', 11, 500, '#ccc');
box(11, 505, 43, 12, SKY);
leg('> 0.1 okt.', 11, 511, '#fff');
leg('Widzialność', 6, 526, ORANGE);
leg('Chmury:', 6, 543);
box(10, 551, 41, 12, SKY);
leg('wysokie', 10, 557, '#fff');
leg('średnie', 10, 569, '#999');
leg('niskie', 10, 581, '#444');
leg('bardzo niskie', 10, 593, '#333');
leg('Mgła', 6, 605, '#ffb400');
txt('Czas uniwersalny (UTC)', 6, 622, '#000', 'left', false, '12px ' + FONT);
txt('* powyżej poziomu morza', 5, 648, '#000', 'left', false, 'bold 9px "DejaVu Sans", sans-serif');

lead([[68, 16], [132, 16], [157, 45]], '#000');
lead([[102, 43], [118, 43], [157, 103]], BRICK);
lead([[92, 77], [115, 77]], '#ff0000');
lead([[131, 77], [136, 77], [157, 100], [170, 110]], '#ff0000');
lead([[70, 99], [133, 99], [135, 102]], '#0000dd');
lead([[94, 120], [122, 120], [136, 113]], PURPLE);
lead([[103, 137], [133, 137], [146, 147]], RED);
lead([[106, 151], [112, 151]], HUMID);
lead([[129, 151], [135, 151], [146, 165]], HUMID);
lead([[103, 165], [113, 165]], '#000');
lead([[129, 165], [132, 165], [139, 172]], '#000');
lead([[71, 179], [139, 179]], GREEN);
lead([[79, 190], [145, 190]], GREEN);
lead([[70, 201], [112, 201]], BLUE);
lead([[132, 201], [160, 171]], BLUE);
lead([[80, 212], [130, 212], [165, 177]], BLUE);
lead([[95, 224], [143, 224], [147, 220]], RED);
lead([[51, 264], [131, 264], [135, 262]], '#000');
lead([[112, 334], [117, 334]], RED);
lead([[129, 335], [135, 323], [138, 316]], RED);
lead([[107, 348], [130, 348], [145, 340]], RED);
lead([[92, 367], [135, 367]], NAVY);
lead([[86, 410], [140, 410]], NAVY);
lead([[100, 430], [132, 430], [185, 448]], BRICK);
lead([[58, 468], [133, 468], [192, 456]], '#000');
lead([[57, 481], [113, 481]], '#555');
lead([[130, 481], [137, 481], [143, 482]], '#555');
lead([[57, 491], [132, 491], [138, 495]], '#999');
lead([[57, 501], [133, 501], [137, 506]], '#ccc');
lead([[54, 509], [142, 509]], SKY);
lead([[54, 512], [142, 512]], SKY);
lead([[67, 527], [128, 527], [173, 465]], ORANGE);
lead([[53, 556], [185, 556]], SKY);
lead([[53, 558], [185, 558]], SKY);
lead([[49, 571], [193, 571]], '#999');
lead([[37, 582], [122, 582]], '#444');
lead([[131, 582], [135, 582]], '#444');
lead([[74, 594], [137, 594], [147, 598]], '#333');
lead([[18, 605], [217, 605], [219, 600]], '#ffb400');
lead([[138, 623], [148, 623], [157, 613]], '#000');

var chart = echarts.init(document.getElementById('chart'), null, { renderer: 'canvas' });
chart.setOption({
  animation: false,
  backgroundColor: '#fff',
  textStyle: { fontFamily: FONT },
  grid: grids,
  xAxis: xAxes,
  yAxis: yAxes,
  series: series,
  graphic: { elements: gfx }
});
</script>
</body>
</html>
